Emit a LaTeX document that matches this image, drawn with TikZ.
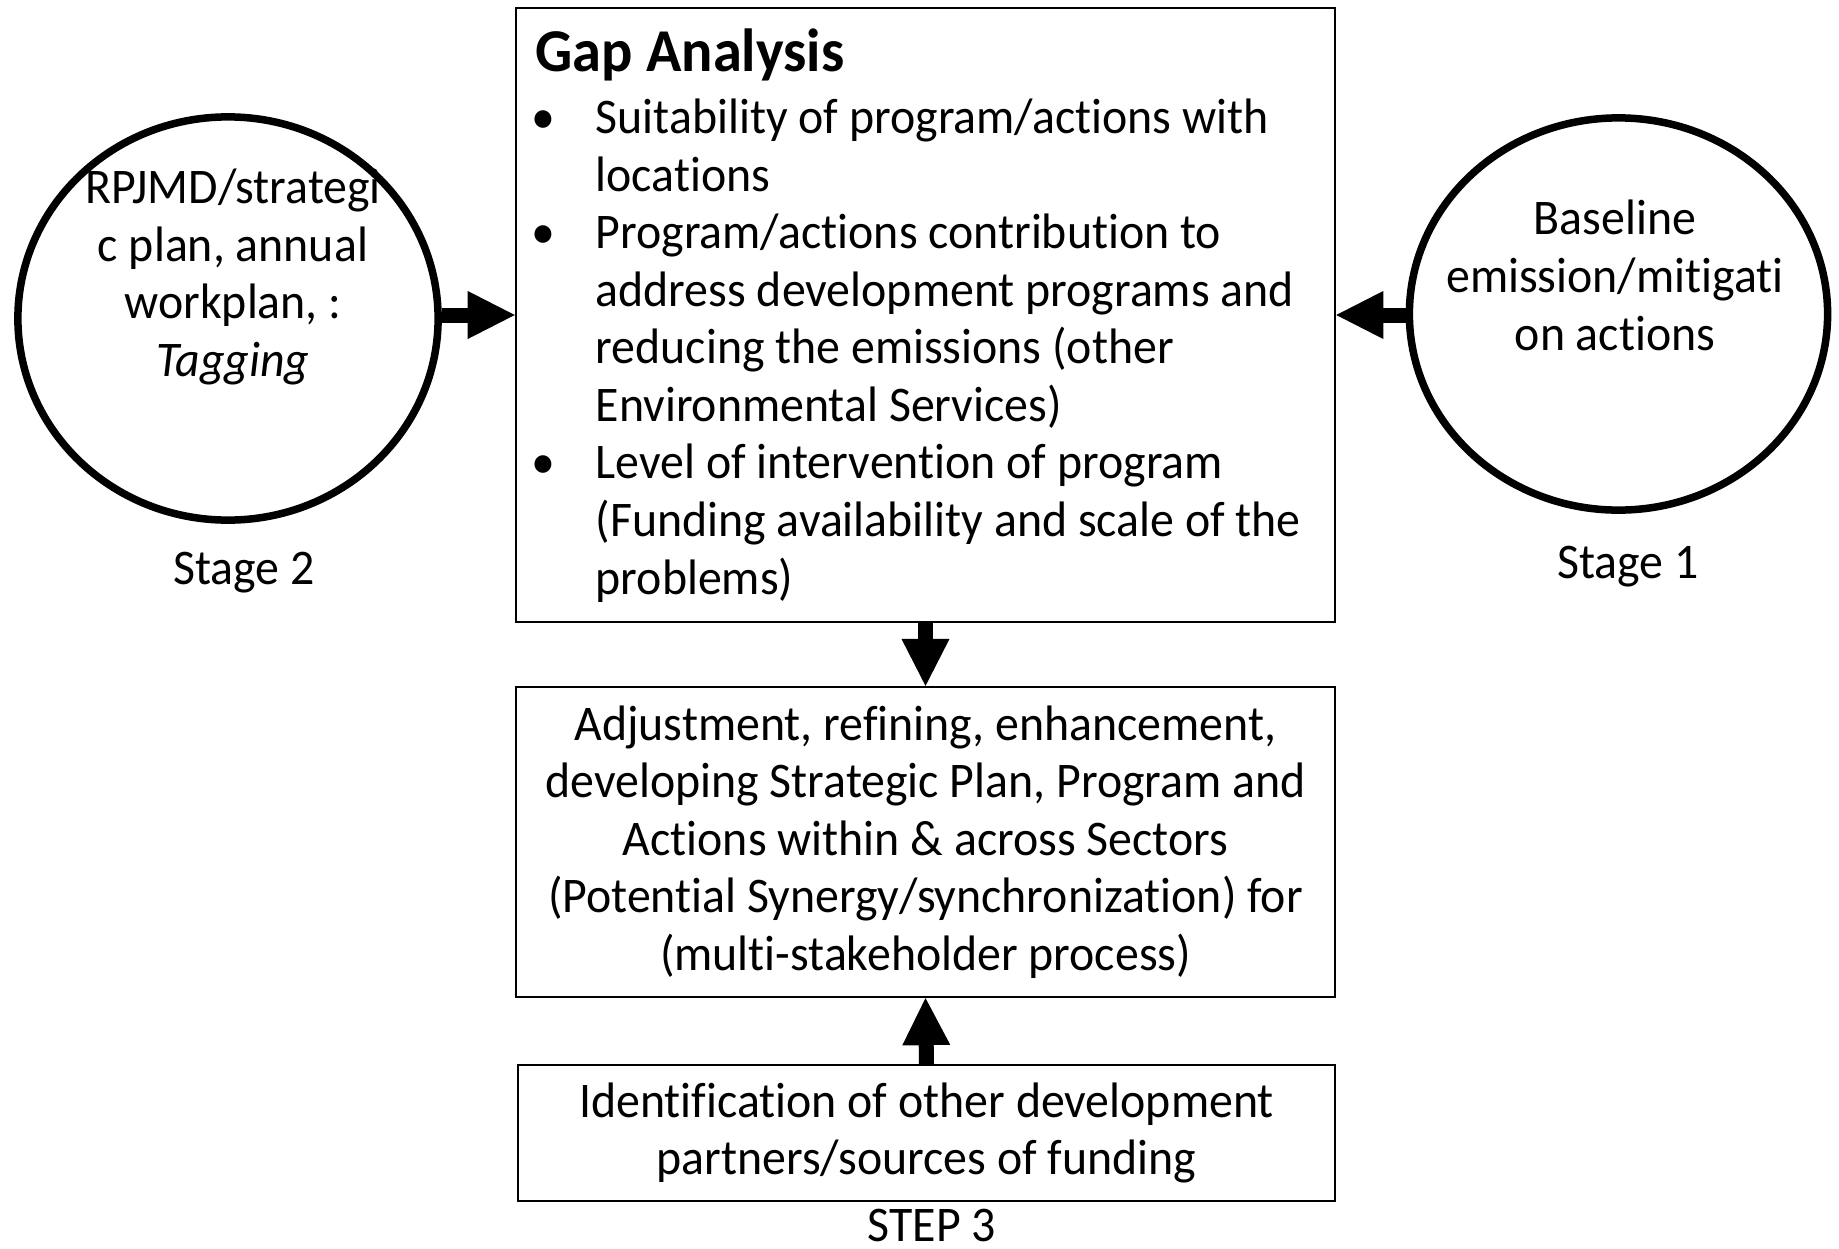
\documentclass[tikz,border=0pt]{standalone}
\usepackage{fontspec}
\setmainfont{Carlito}[FakeStretch=0.96,Ligatures=NoCommon]
\usetikzlibrary{arrows.meta,shapes.geometric}

% text sizes
\newcommand\bodyfont{\fontsize{14.17pt}{16.36pt}\selectfont}
\newcommand\titlefont{\fontsize{17.3pt}{19pt}\selectfont\bfseries}
% bullet list helpers
\newcommand\bul{\makebox[0.64cm][l]{\textbullet}}
\newcommand\ind{\hspace*{0.64cm}}

\begin{document}
\begin{tikzpicture}[x=0.01cm,y=-0.01cm,
  box/.style={draw=black, line width=0.02cm, rectangle, inner sep=0pt},
  ring/.style={draw=black, ellipse, line width=0.075cm, inner sep=0pt},
  plain/.style={inner sep=0pt, font=\bodyfont},
  bigarrow/.style={line width=0.15cm,
    -{Triangle[length=0.47cm,width=0.48cm,line width=0pt]}}]
\useasboundingbox (0,0) rectangle (1839,1248);
\fill[white] (0,0) rectangle (1839,1248);

% central analysis box (multi-line nodes are placed by the baseline of their last line)
\node[box, minimum width=8.19cm, minimum height=6.14cm] (gap) at (925.5,315) {};
\node[plain, anchor=base west, font=\titlefont] (gaptitle) at (535,71) {Gap Analysis};
\node[plain, anchor=base west, align=left] (gaplist) at (531,594)
  {\bul Suitability of program/actions with\\
   \ind locations\\
   \bul Program/actions contribution to\\
   \ind address development programs and\\
   \ind reducing the emissions (other\\
   \ind Environmental Services)\\
   \bul Level of intervention of program\\
   \ind (Funding availability and scale of the\\
   \ind problems)};

% follow-up boxes
\node[box, minimum width=8.19cm, minimum height=3.10cm, align=center, font=\bodyfont] (adj) at (925.5,842)
  {Adjustment, refining, enhancement,\\
   developing Strategic Plan, Program and\\
   Actions within \& across Sectors\\
   (Potential Synergy/synchronization) for\\
   (multi-stakeholder process)};
\node[box, minimum width=8.17cm, minimum height=1.36cm, align=center, font=\bodyfont] (ident) at (926.5,1133)
  {\rule{0pt}{0pt}Identification of other development\\
   partners/sources of funding};
\node[plain, anchor=base] (step3) at (932,1241) {STEP 3};

% stage circles
\node[ring, minimum width=4.20cm, minimum height=4.03cm] (stage2) at (228,318.5) {};
\node[plain, anchor=base, align=center] (s2text) at (233,376.5)
  {RPJMD/strategi\\ c plan, annual\\ workplan, :\\ \textit{Tagging}};
\node[plain, anchor=base] (s2label) at (244,584.5) {Stage 2};

\node[ring, minimum width=4.18cm, minimum height=3.92cm] (stage1) at (1618.5,314) {};
\node[plain, anchor=base, align=center] (s1text) at (1615,350)
  {Baseline\\ emission/mitigati\\ on actions};
\node[plain, anchor=base] (s1label) at (1628,578) {Stage 1};

% connectors
\draw[bigarrow] (stage2.east |- gap.west) -- (gap.west);
\draw[bigarrow] (stage1.west |- gap.east) -- (gap.east);
\draw[bigarrow] (gap.south) -- (adj.north);
\draw[bigarrow] (ident.north) -- (adj.south);
\end{tikzpicture}
\end{document}
